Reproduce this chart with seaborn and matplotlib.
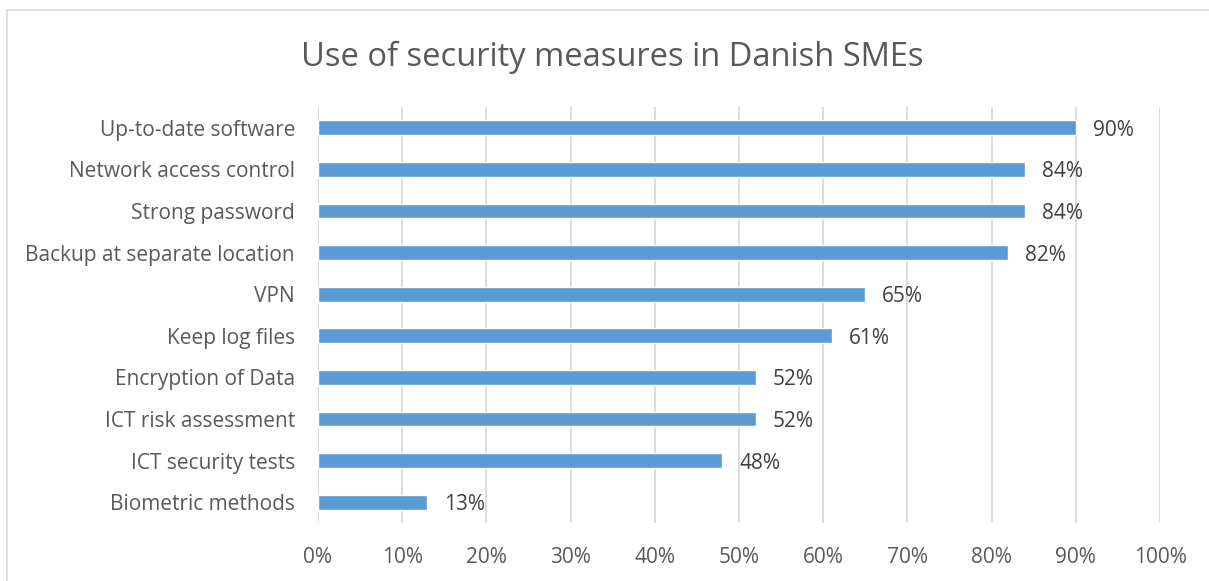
import matplotlib
matplotlib.use("Agg")
import matplotlib.pyplot as plt
import seaborn as sns
import pandas as pd
from matplotlib.lines import Line2D

categories = ["Up-to-date software", "Network access control", "Strong password",
              "Backup at separate location", "VPN", "Keep log files",
              "Encryption of Data", "ICT risk assessment", "ICT security tests",
              "Biometric methods"]
values = [90, 84, 84, 82, 65, 61, 52, 52, 48, 13]
tick_values = [0, 10, 20, 30, 40, 50, 60, 70, 80, 90, 100]
tick_labels = [f"{v}%" for v in tick_values]

sns.set_theme(style="white")
plt.rcParams['font.family'] = ['Open Sans', 'DejaVu Sans']

df = pd.DataFrame({"category": categories, "value": values})

fig = plt.figure(figsize=(12.09, 5.81), dpi=100)
ax = fig.add_axes([318/1209, 1-523/581, (1160-318)/1209, (523-107)/581])

sns.barplot(data=df, x="value", y="category", color="#5B9BD5", saturation=1,
            width=0.36, ax=ax, zorder=3)

ax.set_xlim(0, 100)
ax.set_ylim(len(categories)-0.5, -0.5)
ax.set_xticks(tick_values)
ax.set_xticklabels(tick_labels)
ax.grid(axis="x", color="#D9D9D9", linewidth=1.3, zorder=0)
ax.grid(axis="y", visible=False)
for s in ax.spines.values():
    s.set_visible(False)
ax.set_xlabel("")
ax.set_ylabel("")
ax.tick_params(axis="x", colors="#595959", labelsize=15, length=0, pad=17)
ax.tick_params(axis="y", colors="#595959", labelsize=15, length=0, pad=16.5)

for i, v in enumerate(values):
    ax.text(v + 2.0, i + 0.06, f"{v}%", va="center", ha="left",
            color="#404040", fontsize=15)

fig.text(612/1209, 1-57/581, "Use of security measures in Danish SMEs",
         ha="center", va="center", fontsize=23.5, color="#595959")

fig.add_artist(Line2D([7/1209, 7/1209], [0, 1-10/581], transform=fig.transFigure,
                      color="#D9D9D9", linewidth=1.2))
fig.add_artist(Line2D([7/1209, 1], [1-10/581, 1-10/581], transform=fig.transFigure,
                      color="#D9D9D9", linewidth=1.2))

fig.savefig("out.png", dpi=100)
